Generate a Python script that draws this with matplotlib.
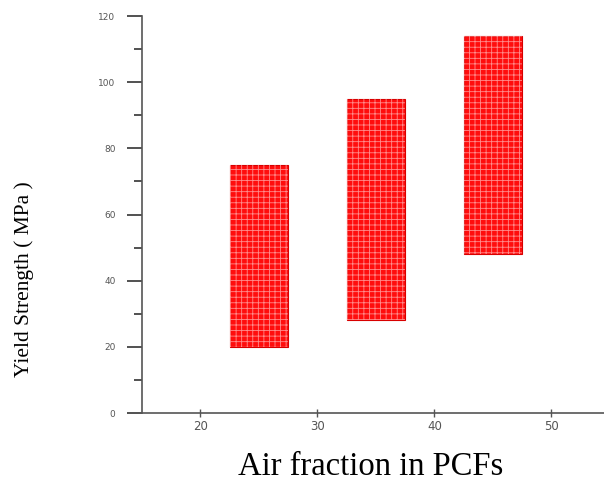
import matplotlib.pyplot as plt
from matplotlib.ticker import MultipleLocator

# Air fraction (%) groups and yield strength ranges (MPa)
air_fraction = [25, 35, 45]
strength_low = [20, 28, 48]
strength_high = [75, 95, 114]
bar_width = 5

fig = plt.figure(figsize=(6.04, 4.86), dpi=100)
ax = fig.add_axes([0.235, 0.150, 0.765, 0.817])

heights = [h - l for l, h in zip(strength_low, strength_high)]
# base red fill
ax.bar(air_fraction, heights, bottom=strength_low, width=bar_width,
       color='#ff0d0d', edgecolor='#d80000', linewidth=0.8, zorder=2)
# light grid texture on top
plt.rcParams['hatch.linewidth'] = 0.6
ax.bar(air_fraction, heights, bottom=strength_low, width=bar_width,
       color='none', edgecolor='#ff8c8c', hatch='+++', linewidth=0, zorder=3)

ax.set_xlim(15, 54.5)
ax.set_ylim(0, 120)
ax.yaxis.set_major_locator(MultipleLocator(20))
ax.yaxis.set_minor_locator(MultipleLocator(10))
ax.set_xticks([20, 30, 40, 50])

for s in ['top', 'right']:
    ax.spines[s].set_visible(False)
for s in ['left', 'bottom']:
    ax.spines[s].set_color('#555555')
    ax.spines[s].set_linewidth(1.2)

ax.tick_params(axis='y', which='major', direction='out', length=11, width=1.2,
               color='#333333', labelsize=6.5, labelcolor='#555555', pad=8)
ax.tick_params(axis='y', which='minor', direction='out', length=6, width=1.2,
               color='#333333')
ax.tick_params(axis='x', which='major', direction='inout', length=6, width=1,
               color='#555555', labelsize=8.5, labelcolor='#555555', pad=2)

fig.text(0.04, 0.426, 'Yield Strength ( MPa )', rotation=90, ha='center',
         va='center', family='Liberation Serif', fontsize=15.5)
fig.text(0.613, 0.039, 'Air fraction in PCFs', ha='center', va='center',
         family='Liberation Serif', fontsize=23.5)

fig.savefig('out.png', dpi=100)
